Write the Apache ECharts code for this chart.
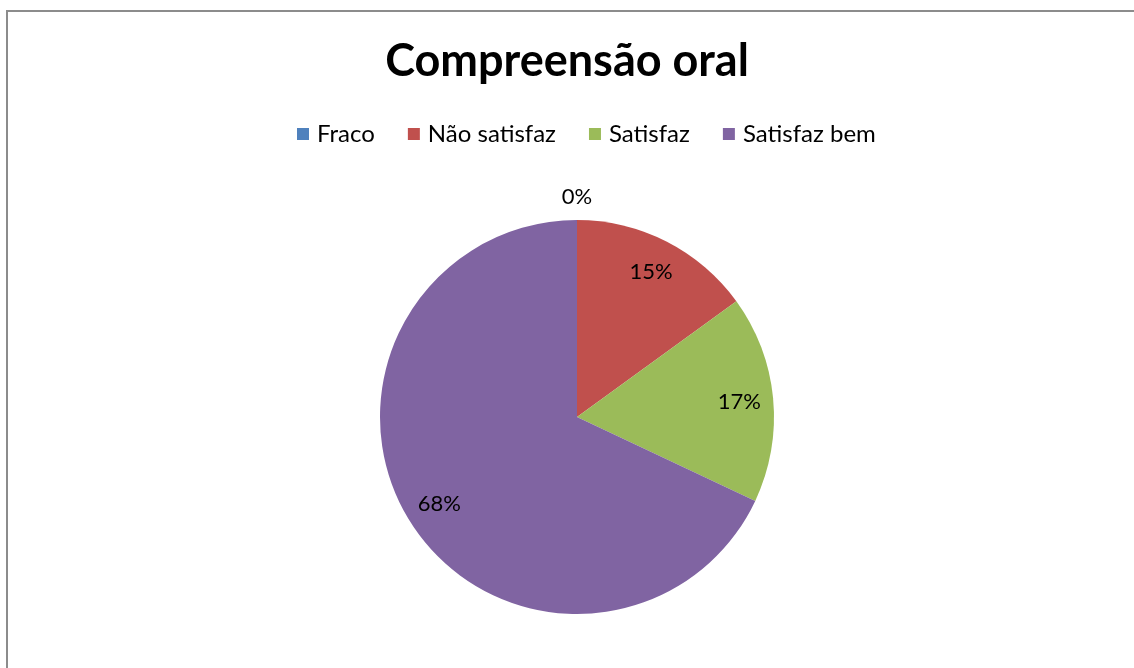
<!DOCTYPE html>
<html><head><meta charset="utf-8">
<script src="https://cdn.jsdelivr.net/npm/echarts@6/dist/echarts.min.js"></script>
<style>html,body{margin:0;padding:0;background:#fff;}#c{width:1134px;height:668px;}
#frame{position:absolute;left:6px;top:10px;width:1140px;height:680px;border-left:2px solid #8c8c8c;border-top:2px solid #8c8c8c;pointer-events:none;}</style>
</head><body>
<div id="c"></div><div id="frame"></div>
<script>
const titleText = "Compreensão oral";
const categories = ["Fraco", "Não satisfaz", "Satisfaz", "Satisfaz bem"];
const values = [0, 15, 17, 68];
const colors = ["#4F81BD", "#C0504D", "#9BBB59", "#8064A2"];

const chart = echarts.init(document.getElementById('c'));
const font = 'Lato';
const ghost = (r, showIdx) => ({
  type: 'pie', center: [577, 417], radius: r,
  startAngle: 90, clockwise: true, silent: true, legendHoverLink: false,
  itemStyle: {color: 'rgba(0,0,0,0)'},
  label: {show: true, position: 'inside', formatter: p => p.value + '%',
          fontFamily: font, fontSize: 22, color: '#000'},
  labelLine: {show: false},
  data: categories.map((n, i) => ({name: n + ' ', value: values[i],
    label: {show: showIdx(i)}}))
});
chart.setOption({
  animation: false,
  color: colors,
  title: {
    text: titleText, left: 'center', top: 34,
    textStyle: {fontFamily: font, fontWeight: 'bold', fontSize: 45, color: '#000'}
  },
  legend: {
    data: categories, top: 117, left: 292,
    itemWidth: 12, itemHeight: 12, itemGap: 33, icon: 'rect',
    textStyle: {fontFamily: font, fontSize: 24, color: '#000', padding: [0,0,0,3]}
  },
  series: [{
    type: 'pie', center: [577, 417], radius: [0, 197],
    startAngle: 90, clockwise: true, silent: true,
    label: {show: false}, labelLine: {show: false},
    data: categories.map((n, i) => ({name: n, value: values[i]}))
  },
  ghost([123, 197], i => values[i] > 0),
  ghost([194, 240], i => values[i] === 0)
  ]
});
</script>
</body></html>
